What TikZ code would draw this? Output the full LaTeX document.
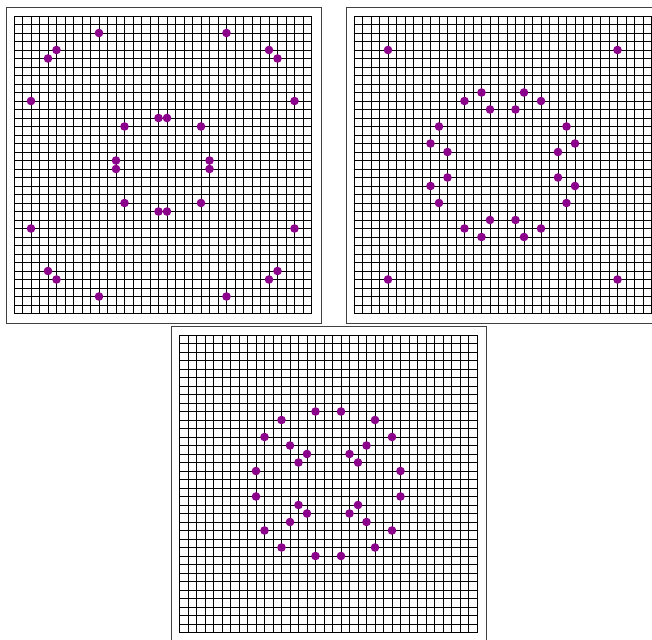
\documentclass[tikz,border=0pt]{standalone}
\definecolor{dotc}{RGB}{139,0,139}
\tikzset{
  gridline/.style={line width=0.6pt, black},
  framebox/.style={line width=0.9pt, black!75},
  dotmark/.style={fill=dotc, draw=none}
}
\newcommand{\gridpanel}{%
  \foreach \i in {0,...,35} {
    \draw[gridline] (\i,0) -- (\i,35);
    \draw[gridline] (0,\i) -- (35,\i);
  }%
}
\begin{document}
\begin{tikzpicture}[x=1pt,y=-1pt]
\useasboundingbox (0,0) rectangle (652,639);
% frames
\draw[framebox] (6,7.5) rectangle (321,323);
\draw[framebox] (346,7.5) rectangle (661,323);
\draw[framebox] (171.5,326.5) rectangle (486.5,642);
% panel 1
\begin{scope}[shift={(14,16)}, x=8.5pt, y=-8.5pt]
  \gridpanel
  \foreach \p/\q in {10/2,25/2,5/4,30/4,4/5,31/5,2/10,33/10,2/25,33/25,4/30,31/30,5/31,30/31,10/33,25/33,
    17/12,18/12,13/13,22/13,12/17,23/17,12/18,23/18,13/22,22/22,17/23,18/23}
    \fill[dotmark] (\p,\q) circle[radius=4.3pt];
\end{scope}
% panel 2
\begin{scope}[shift={(354,16)}, x=8.5pt, y=-8.5pt]
  \gridpanel
  \foreach \p/\q in {4/4,31/4,4/31,31/31,
    13/10,15/9,16/11,19/11,20/9,22/10,
    10/13,9/15,11/16,11/19,9/20,10/22,
    25/13,26/15,24/16,24/19,26/20,25/22,
    13/25,15/26,16/24,19/24,20/26,22/25}
    \fill[dotmark] (\p,\q) circle[radius=4.3pt];
\end{scope}
% panel 3
\begin{scope}[shift={(179.5,335)}, x=8.5pt, y=-8.5pt]
  \gridpanel
  \foreach \p/\q in {16/9,19/9,12/10,23/10,10/12,25/12,13/13,22/13,15/14,20/14,14/15,21/15,9/16,26/16,
    9/19,26/19,14/20,21/20,15/21,20/21,13/22,22/22,10/23,25/23,12/25,23/25,16/26,19/26}
    \fill[dotmark] (\p,\q) circle[radius=4.3pt];
\end{scope}
\end{tikzpicture}
\end{document}
